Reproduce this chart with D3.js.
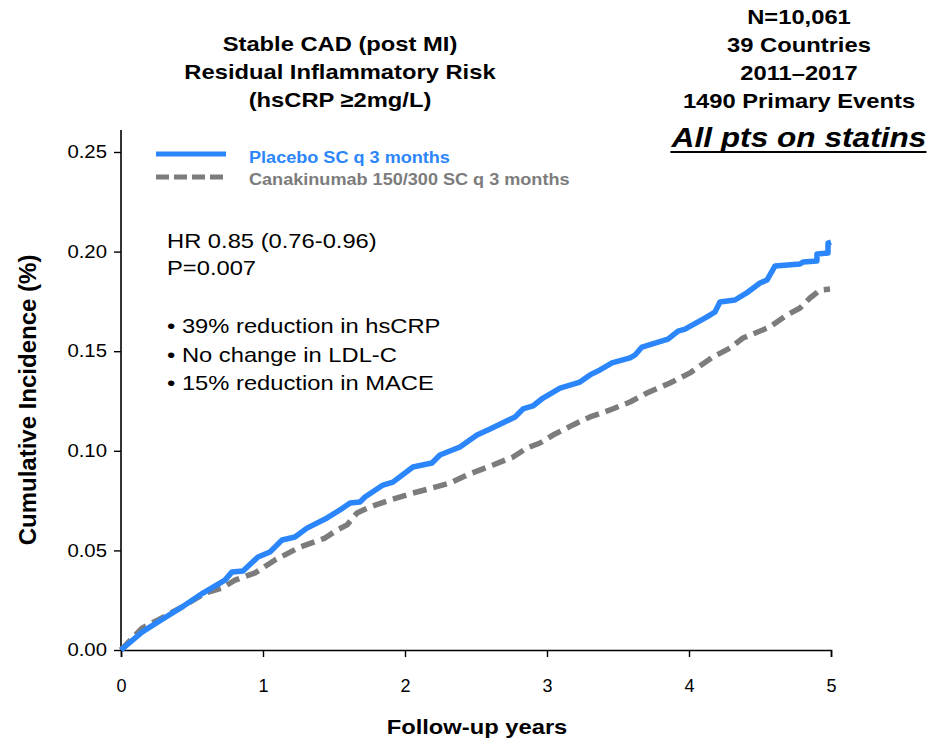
<!DOCTYPE html>
<html>
<head>
<meta charset="utf-8">
<script src="https://cdn.jsdelivr.net/npm/d3@7"></script>
<style>
  html, body { margin: 0; padding: 0; background: #ffffff; }
  svg { display: block; }
  text { font-family: "Liberation Sans", Arial, sans-serif; }
</style>
</head>
<body>
<script>
// Follow-up time (years) and cumulative incidence for the placebo arm
const placeboYears = [0, 0.148, 0.261, 0.430, 0.577, 0.732, 0.782, 0.859, 0.965, 1.049, 1.134, 1.225, 1.310, 1.451, 1.542, 1.613, 1.683, 1.718, 1.845, 1.915, 2.056, 2.190, 2.246, 2.387, 2.507, 2.599, 2.775, 2.831, 2.901, 2.972, 3.092, 3.232, 3.303, 3.373, 3.458, 3.585, 3.620, 3.669, 3.852, 3.923, 3.972, 4.127, 4.183, 4.218, 4.324, 4.415, 4.500, 4.549, 4.606, 4.782, 4.803, 4.901, 4.901, 4.979, 4.979, 5.0];
const placeboIncidence = [0, 0.0090, 0.0141, 0.0216, 0.0286, 0.0351, 0.0392, 0.0397, 0.0467, 0.0492, 0.0552, 0.0567, 0.0612, 0.0663, 0.0703, 0.0738, 0.0743, 0.0768, 0.0828, 0.0843, 0.0919, 0.0939, 0.0979, 0.1019, 0.1079, 0.1109, 0.1170, 0.1210, 0.1225, 0.1265, 0.1315, 0.1345, 0.1381, 0.1406, 0.1441, 0.1466, 0.1481, 0.1521, 0.1561, 0.1601, 0.1611, 0.1672, 0.1697, 0.1747, 0.1757, 0.1797, 0.1842, 0.1857, 0.1928, 0.1938, 0.1948, 0.1953, 0.1988, 0.1993, 0.2043, 0.2048];

// Follow-up time (years) and cumulative incidence for the canakinumab arm
const canakYears = [0, 0.148, 0.261, 0.430, 0.592, 0.711, 0.803, 0.944, 1.085, 1.261, 1.437, 1.521, 1.592, 1.662, 1.754, 1.894, 2.056, 2.190, 2.317, 2.437, 2.620, 2.761, 2.859, 2.951, 3.042, 3.183, 3.303, 3.444, 3.585, 3.704, 3.866, 4.007, 4.169, 4.289, 4.380, 4.570, 4.690, 4.782, 4.852, 4.923, 4.993];
const canakIncidence = [0, 0.0110, 0.0151, 0.0216, 0.0286, 0.0311, 0.0351, 0.0387, 0.0452, 0.0517, 0.0562, 0.0602, 0.0628, 0.0688, 0.0718, 0.0753, 0.0788, 0.0813, 0.0838, 0.0879, 0.0929, 0.0969, 0.1014, 0.1039, 0.1079, 0.1130, 0.1170, 0.1205, 0.1245, 0.1290, 0.1340, 0.1391, 0.1471, 0.1516, 0.1566, 0.1622, 0.1682, 0.1717, 0.1767, 0.1807, 0.1812];

const xTicks = [0, 1, 2, 3, 4, 5];
const yTicks = [0, 0.05, 0.10, 0.15, 0.20, 0.25];

const seriesNames = ["Placebo SC q 3 months", "Canakinumab 150/300 SC q 3 months"];
const titleLines = ["Stable CAD (post MI)", "Residual Inflammatory Risk", "(hsCRP \u22652mg/L)"];
const studyLines = ["N=10,061", "39 Countries", "2011\u20132017", "1490 Primary Events"];
const statinNote = "All pts on statins";
const statLines = ["HR 0.85 (0.76-0.96)", "P=0.007"];
const bulletLines = ["\u2022 39% reduction in hsCRP", "\u2022 No change in LDL-C", "\u2022 15% reduction in MACE"];

const W = 930, H = 739;
const blue = "#2b86fb", grey = "#7c7c7c";
const WIDEN = 1.13; // the slide's lettering is set slightly wide

// Widen each text run horizontally while keeping its glyph height
function widen(sel, k = WIDEN) {
  sel.each(function () {
    const len = this.getComputedTextLength();
    d3.select(this).attr("textLength", len * k).attr("lengthAdjust", "spacingAndGlyphs");
  });
}

const svg = d3.select("body").append("svg").attr("width", W).attr("height", H);

const x = d3.scaleLinear().domain([0, 5]).range([121, 831]);
const y = d3.scaleLinear().domain([0, 0.25]).range([650, 152]);
const yTop = 130;

// Axes
const xAxis = svg.append("g").attr("transform", `translate(0,${y(0)})`)
  .call(d3.axisBottom(x).tickValues(xTicks).tickFormat(d3.format("d")).tickSizeOuter(0).tickSize(7).tickPadding(22));
xAxis.select(".domain").attr("stroke", "#000").attr("stroke-width", 1.6);
xAxis.selectAll(".tick line").attr("stroke", "#000").attr("stroke-width", 1.4);
xAxis.selectAll(".tick text").attr("font-size", 18).attr("fill", "#000");

const yAxis = svg.append("g").attr("transform", `translate(${x(0)},0)`)
  .call(d3.axisLeft(y).tickValues(yTicks).tickFormat(d3.format(".2f")).tickSizeOuter(0).tickSize(7).tickPadding(7));
yAxis.select(".domain").attr("d", `M0,${yTop}V${y(0)}`).attr("stroke", "#000").attr("stroke-width", 1.6);
yAxis.selectAll(".tick line").attr("stroke", "#000").attr("stroke-width", 1.4);
yAxis.selectAll(".tick text").attr("font-size", 18).attr("fill", "#000").call(widen);

// Axis titles
svg.append("text")
  .attr("x", 477).attr("y", 734).attr("text-anchor", "middle")
  .attr("font-size", 21).attr("font-weight", "bold").text("Follow-up years").call(widen);
svg.append("text")
  .attr("transform", `translate(36,${400}) rotate(-90)`).attr("text-anchor", "middle")
  .attr("font-size", 24).attr("font-weight", "bold").text("Cumulative Incidence (%)");

// Curves
const line = d3.line().x(d => x(d[0])).y(d => y(d[1])).curve(d3.curveLinear);
const placebo = placeboYears.map((t, i) => [t, placeboIncidence[i]]);
const canak = canakYears.map((t, i) => [t, canakIncidence[i]]);

svg.append("path").datum(canak).attr("d", line)
  .attr("fill", "none").attr("stroke", grey).attr("stroke-width", 5.5)
  .attr("stroke-dasharray", "14,7").attr("stroke-linejoin", "round");
svg.append("path").datum(placebo).attr("d", line)
  .attr("fill", "none").attr("stroke", blue).attr("stroke-width", 5.5)
  .attr("stroke-linejoin", "round");

// Legend
const legend = svg.append("g");
legend.append("line").attr("x1", 156).attr("x2", 226).attr("y1", 154).attr("y2", 154)
  .attr("stroke", blue).attr("stroke-width", 5);
legend.append("line").attr("x1", 156).attr("x2", 226).attr("y1", 177).attr("y2", 177)
  .attr("stroke", grey).attr("stroke-width", 5).attr("stroke-dasharray", "13,5");
legend.append("text").attr("x", 249).attr("y", 163).attr("font-size", 16)
  .attr("font-weight", "bold").attr("fill", blue).text(seriesNames[0]).call(widen);
legend.append("text").attr("x", 249).attr("y", 185).attr("font-size", 16)
  .attr("font-weight", "bold").attr("fill", grey).text(seriesNames[1]).call(widen);

// Title block
svg.append("g").selectAll("text").data(titleLines).join("text")
  .attr("x", 340).attr("y", (d, i) => 51 + i * 28).attr("text-anchor", "middle")
  .attr("font-size", 21).attr("font-weight", "bold").text(d => d).call(widen);

// Study summary
svg.append("g").selectAll("text").data(studyLines).join("text")
  .attr("x", 799).attr("y", (d, i) => 24 + i * 28).attr("text-anchor", "middle")
  .attr("font-size", 21).attr("font-weight", "bold").text(d => d).call(widen);
const note = svg.append("text").attr("x", 799).attr("y", 147).attr("text-anchor", "middle")
  .attr("font-size", 28).attr("font-weight", "bold").attr("font-style", "italic")
  .text(statinNote).call(widen);
const nb = note.node().getBBox();
svg.append("line").attr("x1", nb.x).attr("x2", nb.x + nb.width)
  .attr("y1", 152).attr("y2", 152).attr("stroke", "#000").attr("stroke-width", 2);

// Statistics annotation
svg.append("g").selectAll("text").data(statLines).join("text")
  .attr("x", 167).attr("y", (d, i) => 248 + i * 27)
  .attr("font-size", 21).text(d => d).call(widen);
svg.append("g").selectAll("text").data(bulletLines).join("text")
  .attr("x", 167).attr("y", (d, i) => 333 + i * 28.5)
  .attr("font-size", 21).text(d => d).call(widen);
</script>
</body>
</html>
